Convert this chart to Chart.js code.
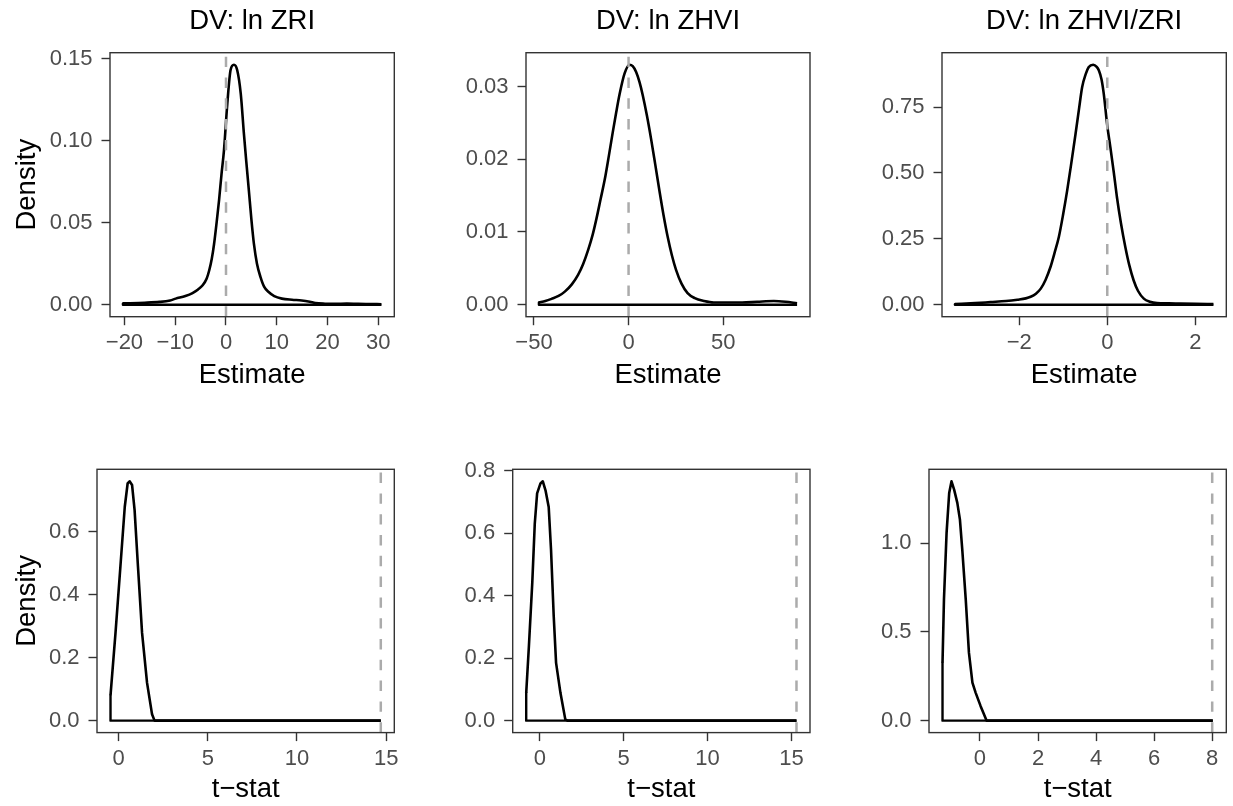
<!DOCTYPE html>
<html><head><meta charset="utf-8">
<script src="https://cdn.jsdelivr.net/npm/chart.js@4.4.0/dist/chart.umd.min.js"></script>
<style>
html,body{margin:0;padding:0;background:#fff;width:1233px;height:806px;overflow:hidden}
canvas{position:absolute}
</style></head><body>
<canvas id="c0" width="411" height="403" style="left:0px;top:0px"></canvas>
<canvas id="c1" width="411" height="403" style="left:411px;top:0px"></canvas>
<canvas id="c2" width="411" height="403" style="left:822px;top:0px"></canvas>
<canvas id="c3" width="411" height="403" style="left:0px;top:403px"></canvas>
<canvas id="c4" width="411" height="403" style="left:411px;top:403px"></canvas>
<canvas id="c5" width="411" height="403" style="left:822px;top:403px"></canvas>
<script>
// ---------- DATA ----------
const panelTitles = ['DV: ln ZRI', 'DV: ln ZHVI', 'DV: ln ZHVI/ZRI', '', '', ''];
const xAxisTitles = ['Estimate', 'Estimate', 'Estimate', 't\u2212stat', 't\u2212stat', 't\u2212stat'];
const yAxisTitles = ['Density', '', '', 'Density', '', ''];
const refLines = [0, 0, 0, 14.7, 15.3, 8.0];

// Panel 1: DV ln ZRI, estimates
const p1X = [-20.3, -16, -13.1, -11, -9.9, -8, -6.6, -5.5, -4.6, -3.8, -3.3, -2.8, -2.35, -1.85, -1.37, -0.9, -0.4, 0.26, 0.9, 1.57, 2.2, 2.9, 3.53, 4.0, 4.5, 5.0, 5.5, 6.1, 6.8, 7.5, 8.4, 9.5, 11.0, 13, 14.9, 16.5, 17.6, 19.5, 21.5, 23.8, 26, 28, 30.6];
const p1Y = [0.0008, 0.0012, 0.0017, 0.0026, 0.0037, 0.0053, 0.0071, 0.0093, 0.0118, 0.016, 0.021, 0.028, 0.037, 0.05, 0.0636, 0.079, 0.094, 0.1225, 0.143, 0.1462, 0.143, 0.1287, 0.104, 0.087, 0.0697, 0.052, 0.037, 0.025, 0.0168, 0.011, 0.0077, 0.0052, 0.0037, 0.003, 0.0026, 0.0018, 0.001, 0.0006, 0.0005, 0.0007, 0.0005, 0.0004, 0.0003];
// Panel 2: DV ln ZHVI, estimates
const p2X = [-47.4, -44, -40.7, -37, -33.7, -30, -26.7, -24, -21.4, -19, -17.0, -14.8, -12.6, -10.4, -8.3, -6.5, -4.7, -2.1, 0.5, 2.2, 4.0, 5.8, 7.5, 9.7, 11.9, 14.1, 16.3, 18.5, 20.7, 22.9, 25.1, 28, 31.2, 35, 40, 45, 50.5, 60, 68, 76.8, 83, 89.1];
const p2Y = [0.0003, 0.0005, 0.0008, 0.0012, 0.0018, 0.0028, 0.0041, 0.0056, 0.0075, 0.0096, 0.0118, 0.0145, 0.0172, 0.0205, 0.0238, 0.0265, 0.0290, 0.0318, 0.0330, 0.0328, 0.0320, 0.0306, 0.0288, 0.0260, 0.0228, 0.0193, 0.0157, 0.0123, 0.0093, 0.0068, 0.0048, 0.0029, 0.0016, 0.0009, 0.0005, 0.0003, 0.0003, 0.0003, 0.0004, 0.0005, 0.0004, 0.0002];
// Panel 3: DV ln ZHVI/ZRI, estimates
const p3X = [-3.46, -3.0, -2.65, -2.3, -2.04, -1.85, -1.74, -1.62, -1.51, -1.40, -1.29, -1.20, -1.10, -1.00, -0.91, -0.81, -0.72, -0.64, -0.57, -0.49, -0.42, -0.32, -0.24, -0.19, -0.13, -0.08, 0.0, 0.07, 0.15, 0.22, 0.31, 0.41, 0.50, 0.60, 0.70, 0.83, 0.97, 1.13, 1.4, 1.66, 2.0, 2.41];
const p3Y = [0.002, 0.006, 0.010, 0.014, 0.019, 0.024, 0.030, 0.042, 0.061, 0.095, 0.143, 0.195, 0.257, 0.345, 0.434, 0.545, 0.649, 0.745, 0.826, 0.875, 0.902, 0.911, 0.903, 0.889, 0.855, 0.801, 0.68, 0.598, 0.50, 0.408, 0.31, 0.219, 0.150, 0.092, 0.052, 0.023, 0.011, 0.006, 0.005, 0.004, 0.003, 0.002];
// Panel 4: DV ln ZRI, t-stats
const p4X = [-0.46, -0.18, 0.095, 0.34, 0.50, 0.61, 0.75, 0.89, 1.08, 1.31, 1.59, 1.87, 2.01, 14.7];
const p4Y = [0.08, 0.279, 0.49, 0.68, 0.754, 0.761, 0.749, 0.67, 0.49, 0.279, 0.12, 0.02, 0, 0];
// Panel 5: DV ln ZHVI, t-stats
const p5X = [-0.81, -0.65, -0.45, -0.30, -0.16, 0.04, 0.18, 0.34, 0.53, 0.67, 0.83, 0.97, 1.23, 1.52, 1.65, 15.3];
const p5Y = [0.089, 0.238, 0.44, 0.63, 0.727, 0.759, 0.766, 0.737, 0.684, 0.546, 0.334, 0.185, 0.089, 0.004, 0, 0];
// Panel 6: DV ln ZHVI/ZRI, t-stats
const p6X = [-1.29, -1.24, -1.15, -1.06, -0.98, -0.89, -0.78, -0.69, -0.61, -0.49, -0.38, -0.26, -0.15, 0.02, 0.23, 8.02];
const p6Y = [0.326, 0.683, 1.058, 1.283, 1.349, 1.302, 1.227, 1.133, 0.965, 0.683, 0.383, 0.214, 0.158, 0.083, 0, 0];

// Tick values and labels
const p1XTicks = [-20, -10, 0, 10, 20, 30];
const p1XLabels = ['\u221220', '\u221210', '0', '10', '20', '30'];
const p1YTicks = [0, 0.05, 0.10, 0.15];
const p1YLabels = ['0.00', '0.05', '0.10', '0.15'];
const p2XTicks = [-50, 0, 50];
const p2XLabels = ['\u221250', '0', '50'];
const p2YTicks = [0, 0.01, 0.02, 0.03];
const p2YLabels = ['0.00', '0.01', '0.02', '0.03'];
const p3XTicks = [-2, 0, 2];
const p3XLabels = ['\u22122', '0', '2'];
const p3YTicks = [0, 0.25, 0.50, 0.75];
const p3YLabels = ['0.00', '0.25', '0.50', '0.75'];
const p4XTicks = [0, 5, 10, 15];
const p4XLabels = ['0', '5', '10', '15'];
const p4YTicks = [0, 0.2, 0.4, 0.6];
const p4YLabels = ['0.0', '0.2', '0.4', '0.6'];
const p5XTicks = [0, 5, 10, 15];
const p5XLabels = ['0', '5', '10', '15'];
const p5YTicks = [0, 0.2, 0.4, 0.6, 0.8];
const p5YLabels = ['0.0', '0.2', '0.4', '0.6', '0.8'];
const p6XTicks = [0, 2, 4, 6, 8];
const p6XLabels = ['0', '2', '4', '6', '8'];
const p6YTicks = [0, 0.5, 1.0];
const p6YLabels = ['0.0', '0.5', '1.0'];

// ---------- LAYOUT / STYLE ----------
const FAMILY = "'Liberation Sans', Arial, Helvetica, sans-serif";
const TICK_SIZE = 22, TITLE_SIZE = 27.5;
const layouts = [
  {yw: 110,   padR: 16.7, padT: 0,    xh: 86.3, xtb: 11,  smooth: true},
  {yw: 115,   padR: 12,   padT: 0,    xh: 86.3, xtb: 11,  smooth: true},
  {yw: 120,   padR: 6.7,  padT: 0,    xh: 86.3, xtb: 11,  smooth: true},
  {yw: 97,    padR: 16.7, padT: 66.3, xh: 73.4, xtb: 0,   smooth: false},
  {yw: 101.7, padR: 12,   padT: 66.3, xh: 73.4, xtb: 0,   smooth: false},
  {yw: 107,   padR: 6.7,  padT: 66.3, xh: 73.4, xtb: 0,   smooth: false}
];

const panels = [
  {X: p1X, Y: p1Y, xt: p1XTicks, xl: p1XLabels, yt: p1YTicks, yl: p1YLabels},
  {X: p2X, Y: p2Y, xt: p2XTicks, xl: p2XLabels, yt: p2YTicks, yl: p2YLabels},
  {X: p3X, Y: p3Y, xt: p3XTicks, xl: p3XLabels, yt: p3YTicks, yl: p3YLabels},
  {X: p4X, Y: p4Y, xt: p4XTicks, xl: p4XLabels, yt: p4YTicks, yl: p4YLabels},
  {X: p5X, Y: p5Y, xt: p5XTicks, xl: p5XLabels, yt: p5YTicks, yl: p5YLabels},
  {X: p6X, Y: p6Y, xt: p6XTicks, xl: p6XLabels, yt: p6YTicks, yl: p6YLabels}
];

const framePlugin = {
  id: 'frame',
  afterDatasetsDraw(chart, args, opts) {
    const {ctx, chartArea: a} = chart;
    const xs = chart.scales.x;
    if (opts.vline !== undefined && opts.vline !== null) {
      const px = xs.getPixelForValue(opts.vline);
      ctx.save();
      ctx.strokeStyle = '#ABABAB';
      ctx.lineWidth = 2.5;
      ctx.setLineDash([10.4, 10.4]);
      ctx.beginPath();
      ctx.moveTo(px, a.bottom);
      ctx.lineTo(px, a.top);
      ctx.stroke();
      ctx.restore();
    }
    ctx.save();
    ctx.strokeStyle = '#333333';
    ctx.lineWidth = 1.4;
    ctx.strokeRect(a.left, a.top, a.right - a.left, a.bottom - a.top);
    ctx.restore();
  }
};

function expand(lo, hi) { const r = hi - lo; return [lo - 0.05 * r, hi + 0.05 * r]; }

panels.forEach((p, i) => {
  const L = layouts[i];
  const n = p.X.length;
  const curve = p.X.map((x, k) => ({x: x, y: p.Y[k]}));
  const base = [{x: p.X[0], y: p.Y[0]}, {x: p.X[0], y: 0}, {x: p.X[n - 1], y: 0}];
  const xr = expand(Math.min(...p.X, refLines[i]), Math.max(...p.X, refLines[i]));
  const yr = expand(0, Math.max(...p.Y));
  const tickFont = {size: TICK_SIZE, family: FAMILY};
  const titleFont = {size: TITLE_SIZE, family: FAMILY, weight: 'normal', lineHeight: 1.2};
  const grid = {drawOnChartArea: false, drawTicks: true, tickLength: 8.5, tickColor: '#333333', tickWidth: 1.4};
  new Chart(document.getElementById('c' + i), {
    type: 'line',
    data: {
      datasets: [
        {data: curve, borderColor: '#000', borderWidth: 2.6, pointRadius: 0, fill: false,
         cubicInterpolationMode: L.smooth ? 'monotone' : 'default', tension: 0,
         borderJoinStyle: 'round'},
        {data: base, borderColor: '#000', borderWidth: 2.4, pointRadius: 0, fill: false, tension: 0,
         borderJoinStyle: 'round'}
      ]
    },
    options: {
      responsive: false,
      animation: false,
      devicePixelRatio: 1,
      events: [],
      layout: {padding: {left: 0, right: L.padR, top: L.padT, bottom: 0}},
      plugins: {
        legend: {display: false},
        tooltip: {enabled: false},
        title: {display: panelTitles[i] !== '', text: panelTitles[i], color: '#000', font: titleFont,
                fullSize: false, padding: {top: 5, bottom: 14.7}},
        frame: {vline: refLines[i]}
      },
      scales: {
        x: {
          type: 'linear', min: xr[0], max: xr[1],
          afterBuildTicks: (s) => { s.ticks = p.xt.map(v => ({value: v})); },
          afterFit: (s) => { s.height = L.xh; s.paddingLeft = 0; s.paddingRight = 0; },
          ticks: {autoSkip: false, maxRotation: 0, minRotation: 0, padding: 4.4, color: '#4D4D4D', font: tickFont,
                  callback: (v, idx) => p.xl[idx]},
          grid: grid,
          border: {display: false},
          title: {display: true, text: xAxisTitles[i], color: '#000', font: titleFont, padding: {top: 0, bottom: L.xtb}}
        },
        y: {
          type: 'linear', min: yr[0], max: yr[1],
          afterBuildTicks: (s) => { s.ticks = p.yt.map(v => ({value: v})); },
          afterFit: (s) => { s.width = L.yw; s.paddingTop = 0; s.paddingBottom = 0; },
          ticks: {autoSkip: false, padding: 9, color: '#4D4D4D', font: tickFont,
                  callback: (v, idx) => p.yl[idx]},
          grid: grid,
          border: {display: false},
          title: {display: yAxisTitles[i] !== '', text: yAxisTitles[i], color: '#000', font: titleFont, padding: {top: 10.5, bottom: 0}}
        }
      }
    },
    plugins: [framePlugin]
  });
});
</script>
</body></html>
